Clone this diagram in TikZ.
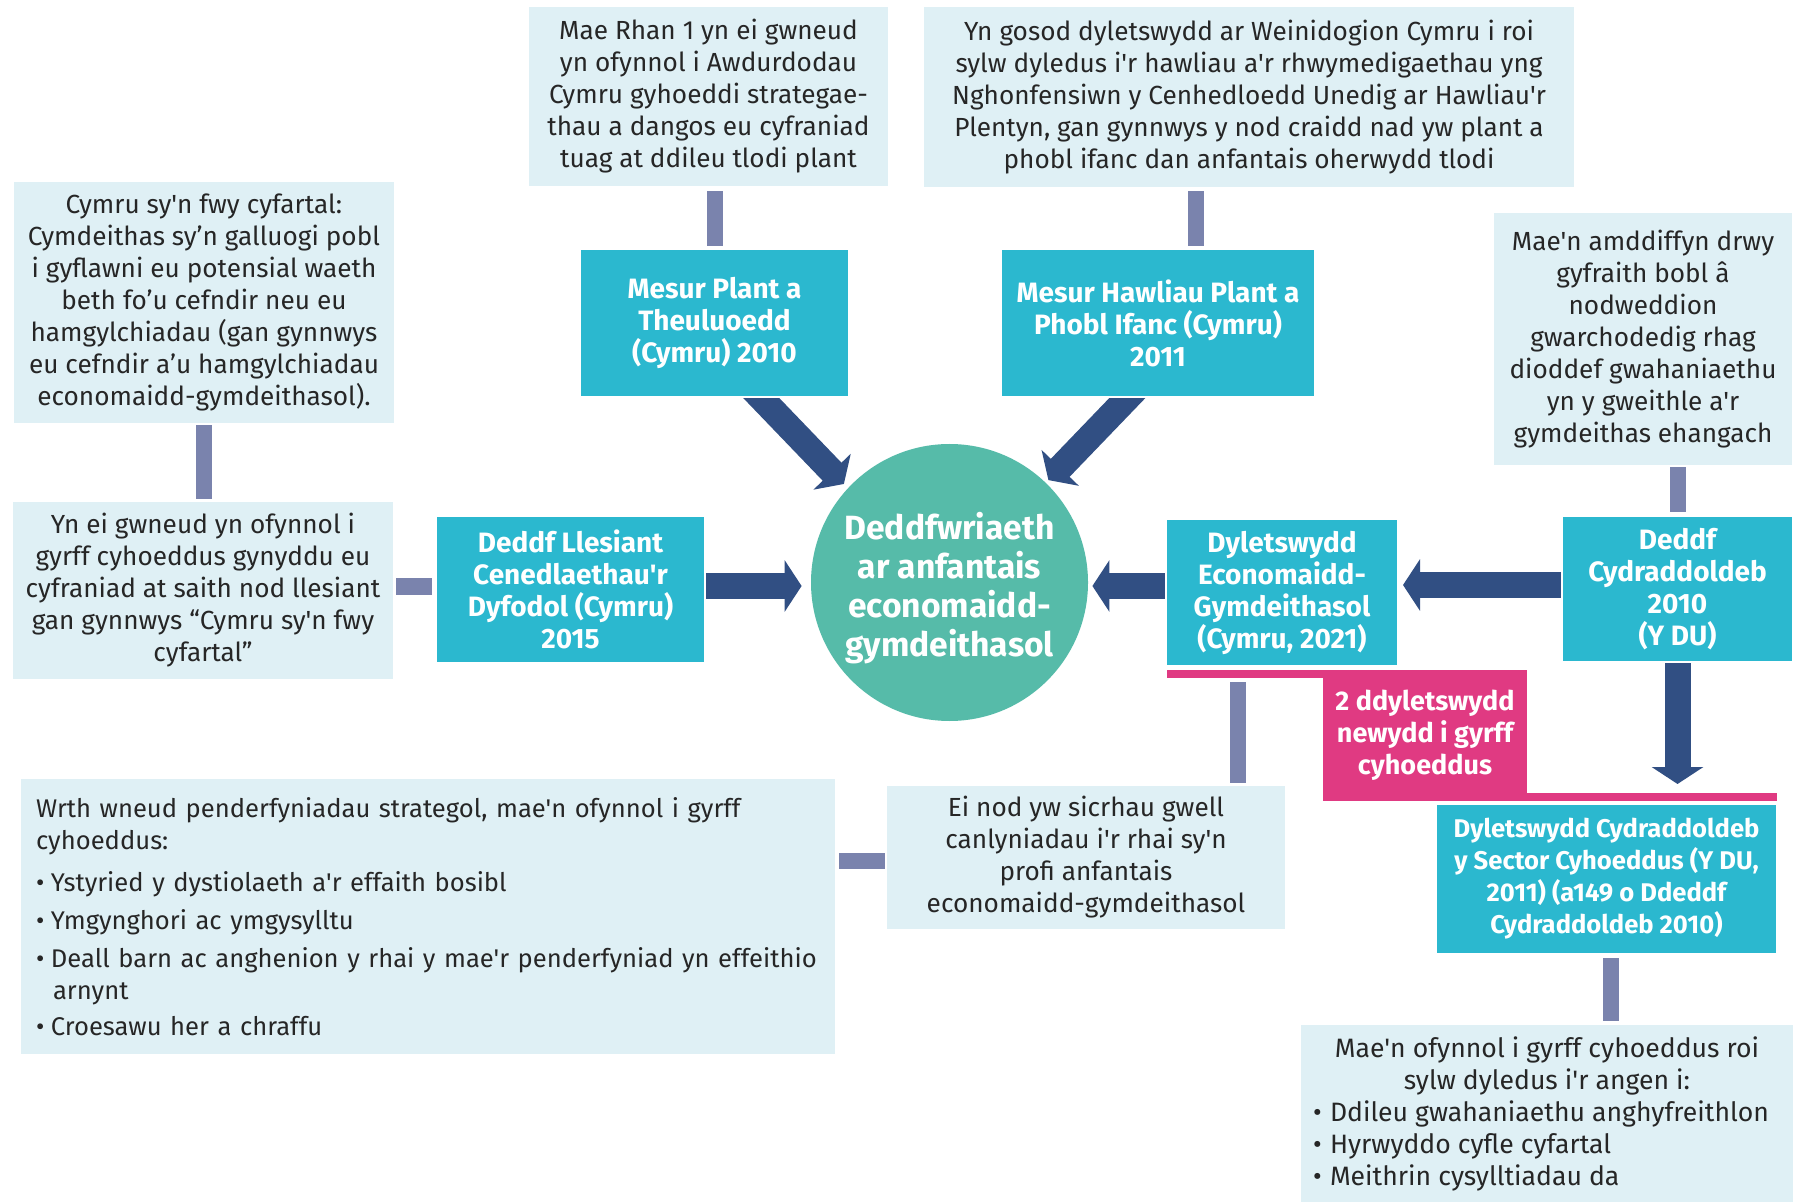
\documentclass[tikz,border=0pt]{standalone}
\usepackage{fontspec}
\setmainfont{Fira Sans}[Ligatures=TeXOff]
\usetikzlibrary{arrows.meta,calc}
\definecolor{lightbox}{HTML}{DFF0F5}
\definecolor{tealc}{HTML}{2BB8CF}
\definecolor{navyc}{HTML}{314F83}
\definecolor{barc}{HTML}{7A83AD}
\definecolor{hubc}{HTML}{56BBA9}
\definecolor{pinkc}{HTML}{E03A82}
\definecolor{textc}{HTML}{262626}
\pgfdeclarelayer{back}
\pgfdeclarelayer{bg}
\pgfsetlayers{back,bg,main}
\newcommand{\Nb}{\makebox[7.5pt][l]{•}}
\newcommand{\Lb}{\makebox[8.5pt][l]{•}}
\hyphenpenalty=10000
\exhyphenpenalty=10000
\begin{document}
\begin{tikzpicture}[x=0.5pt,y=-0.5pt,
  lbox/.style={fill=lightbox, inner sep=0pt, align=center, text=textc, font=\fontsize{13.1}{16}\selectfont},
  tbox/.style={fill=tealc, draw=white, line width=1pt, inner sep=0pt, align=center, text=white, font=\fontsize{14}{16}\selectfont\bfseries},
  bar/.style={draw=barc, line width=8pt},
  blockarrow/.style={draw=navyc, line width=13pt, -{Triangle[width=25.5pt,length=8.5pt]}},
]
\begin{pgfonlayer}{back}
\fill[white] (0,0) rectangle (1802,1202);
\end{pgfonlayer}
\useasboundingbox (0,0) rectangle (1802,1202);

% light boxes
\node[lbox, minimum width=179.5pt, minimum height=89.5pt] (A) at (708.5,96.5)
  {Mae Rhan 1 yn ei gwneud\\ yn ofynnol i Awdurdodau\\ Cymru gyhoeddi strategae-\\ thau a dangos eu cyfraniad\\ tuag at ddileu tlodi plant};
\node[lbox, minimum width=325pt, minimum height=90pt] (B) at (1249,97)
  {Yn gosod dyletswydd ar Weinidogion Cymru i roi\\ sylw dyledus i'r hawliau a'r rhwymedigaethau yng\\ Nghonfensiwn y Cenhedloedd Unedig ar Hawliau'r\\ Plentyn, gan gynnwys y nod craidd nad yw plant a\\ phobl ifanc dan anfantais oherwydd tlodi};
\node[lbox, minimum width=190pt, minimum height=120.5pt] (C) at (204,302.5)
  {Cymru sy'n fwy cyfartal:\\ Cymdeithas sy’n galluogi pobl\\ i gyflawni eu potensial waeth\\ beth fo’u cefndir neu eu\\ hamgylchiadau (gan gynnwys\\ eu cefndir a’u hamgylchiadau\\ economaidd-gymdeithasol).};
\node[lbox, minimum width=190pt, minimum height=88.5pt] (D) at (203,590.5)
  {Yn ei gwneud yn ofynnol i\\ gyrff cyhoeddus gynyddu eu\\ cyfraniad at saith nod llesiant\\ gan gynnwys “Cymru sy'n fwy\\ cyfartal”};
\node[lbox, minimum width=149pt, minimum height=126pt] (J) at (1643,339)
  {Mae'n amddiffyn drwy\\ gyfraith bobl â\\ nodweddion\\ gwarchodedig rhag\\ dioddef gwahaniaethu\\ yn y gweithle a'r\\ gymdeithas ehangach};
\node[lbox, minimum width=199pt, minimum height=71.5pt] (M) at (1086,857.5)
  {Ei nod yw sicrhau gwell\\ canlyniadau i'r rhai sy'n\\ profi anfantais\\ economaidd-gymdeithasol};
\node[lbox, align=left, text width=392pt, minimum width=407pt, minimum height=137.5pt,
  font=\fontsize{12.8}{16}\selectfont] (N) at (428,916.5)
  {Wrth wneud penderfyniadau strategol, mae'n ofynnol i gyrff\\
   cyhoeddus:\\[5pt]
   \Nb Ystyried y dystiolaeth a'r effaith bosibl\\[3pt]
   \Nb Ymgynghori ac ymgysylltu\\[3pt]
   \Nb Deall barn ac anghenion y rhai y mae'r penderfyniad yn effeithio\\
   \hspace*{8.5pt}arnynt\\[2pt]
   \Nb Croesawu her a chraffu};
\node[lbox, minimum width=246pt, minimum height=88.5pt, font=\fontsize{13.3}{16}\selectfont] (L) at (1547,1113.5)
  {Mae'n ofynnol i gyrff cyhoeddus roi\\ sylw dyledus i'r angen i:\\
   \makebox[234pt][l]{\Lb Ddileu gwahaniaethu anghyfreithlon}\\
   \makebox[234pt][l]{\Lb Hyrwyddo cyfle cyfartal}\\
   \makebox[234pt][l]{\Lb Meithrin cysylltiadau da}};

% teal boxes
\node[tbox, minimum width=134.5pt, minimum height=74pt] (F) at (714.5,323)
  {Mesur Plant a\\ Theuluoedd\\ (Cymru) 2010};
\node[tbox, minimum width=157pt, minimum height=74pt] (G) at (1158,323)
  {Mesur Hawliau Plant a\\ Phobl Ifanc (Cymru)\\ 2011};
\node[tbox, minimum width=134.5pt, minimum height=73.5pt] (E) at (570.5,589.5)
  {Deddf Llesiant\\ Cenedlaethau'r\\ Dyfodol (Cymru)\\ 2015};
\node[tbox, minimum width=116pt, minimum height=73.5pt] (H) at (1282,592.5)
  {Dyletswydd\\ Economaidd-\\ Gymdeithasol\\ (Cymru, 2021)};
\node[tbox, minimum width=115.5pt, minimum height=73pt] (I) at (1677.5,589)
  {Deddf\\ Cydraddoldeb\\ 2010\\ (Y DU)};
\node[tbox, minimum width=170.5pt, minimum height=75pt, font=\fontsize{12.8}{16}\selectfont\bfseries] (K) at (1606.5,879)
  {Dyletswydd Cydraddoldeb\\ y Sector Cyhoeddus (Y DU,\\ 2011) (a149 o Ddeddf\\ Cydraddoldeb 2010)};

% hub
\node[circle, fill=hubc, minimum size=138.5pt, inner sep=0pt] (hub) at (949.5,582.5) {};
\node[inner sep=0pt, align=center, text=white, font=\fontsize{16.8}{19.5}\selectfont\bfseries]
  (hubtext) at ([yshift=-2.9pt]hub.center)
  {Deddfwriaeth\\ ar anfantais\\ economaidd-\\ gymdeithasol};

% pink duty box
\fill[pinkc] (1167,670) rectangle (1323,678);
\fill[pinkc] (1527,793) rectangle (1777,801);
\node[fill=pinkc, minimum width=102pt, minimum height=65.5pt, inner sep=0pt, align=center, text=white,
  font=\fontsize{13.5}{16}\selectfont\bfseries] (P) at (1425,735.5)
  {2 ddyletswydd\\ newydd i gyrff\\ cyhoeddus};

% bars
\draw[bar, shorten <=2.5pt, shorten >=1pt] (A.south -| F.north) -- (F.north);
\draw[bar, shorten <=2pt, shorten >=1pt] ([xshift=19pt]G.north |- B.south) -- ([xshift=19pt]G.north);
\draw[bar, shorten <=1pt, shorten >=1.5pt] (C.south) -- (C.south |- D.north);
\draw[bar, shorten <=1.5pt, shorten >=1.5pt] ([yshift=2pt]D.east) -- ([yshift=2pt]D.east -| E.west);
\draw[bar, shorten <=1pt, shorten >=1.5pt] (I.north |- J.south) -- (I.north);
\draw[bar, shorten <=7.5pt, shorten >=1.5pt] ([xshift=-22pt]H.south) -- ([xshift=-22pt]H.south |- M.north);
\draw[bar, shorten <=1.5pt, shorten >=2pt] ([xshift=2.25pt]K.south) -- ([xshift=2.25pt]K.south |- L.north);
\draw[bar, shorten <=2pt, shorten >=1pt] ([yshift=-1.75pt]M.west -| N.east) -- ([yshift=-1.75pt]M.west);

% block arrows (under the boxes)
\begin{pgfonlayer}{bg}
\draw[blockarrow] ($(F.south)+(34.7,-12.5)$) -- ($(hub.center)!1.04!(hub.137)$);
\draw[blockarrow] ($(G.south)+(-18.6,-12.5)$) -- ($(hub.center)!1.025!(hub.46)$);
\draw[blockarrow] ([xshift=-5pt,yshift=1.75pt]E.east) -- ([xshift=-4.5pt,yshift=1.75pt]E.east -| hub.west);
\draw[blockarrow] ([xshift=5pt,yshift=3.25pt]H.west) -- ([xshift=2pt,yshift=3.25pt]H.west -| hub.east);
\draw[blockarrow] ([xshift=5pt,yshift=2pt]I.west) -- ([xshift=2pt,yshift=2pt]I.west -| H.east);
\draw[blockarrow] ([yshift=5pt]I.south) -- ([yshift=9.5pt]I.south |- K.north);
\end{pgfonlayer}
\end{tikzpicture}
\end{document}
